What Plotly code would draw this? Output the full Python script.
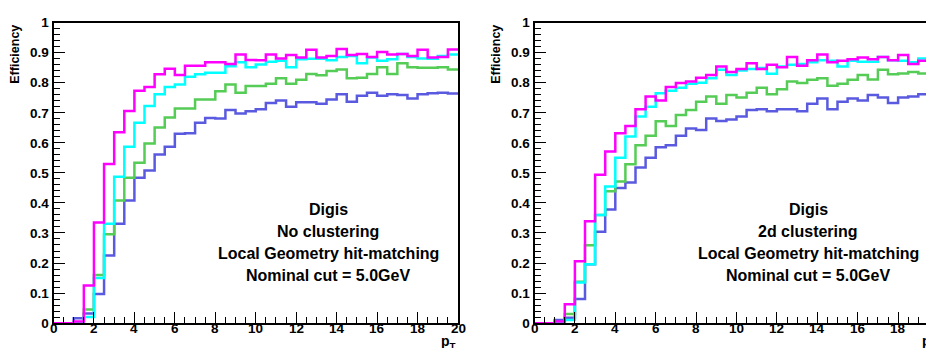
import numpy as np
import plotly.graph_objects as go

# pT binning: 40 bins of 0.5 GeV from 0 to 20
pt_edges = np.arange(41) * 0.5

# left panel: No clustering
left_magenta = [0, 0, 0.005, 0.125, 0.335, 0.53, 0.635, 0.706, 0.773, 0.786,
                0.828, 0.847, 0.826, 0.857, 0.857, 0.868, 0.868, 0.862, 0.894, 0.876,
                0.875, 0.894, 0.881, 0.892, 0.884, 0.91, 0.884, 0.889, 0.912, 0.892,
                0.896, 0.886, 0.902, 0.894, 0.896, 0.889, 0.91, 0.884, 0.886, 0.911]
left_cyan = [0, 0, 0.003, 0.02, 0.15, 0.331, 0.487, 0.587, 0.667, 0.723,
             0.762, 0.786, 0.794, 0.820, 0.828, 0.833, 0.833, 0.855, 0.868, 0.852,
             0.861, 0.870, 0.873, 0.852, 0.878, 0.880, 0.880, 0.875, 0.886, 0.889,
             0.865, 0.884, 0.873, 0.878, 0.896, 0.886, 0.881, 0.880, 0.889, 0.894]
left_green = [0, 0, 0.003, 0.045, 0.160, 0.296, 0.408, 0.484, 0.534, 0.598,
              0.651, 0.684, 0.714, 0.714, 0.744, 0.744, 0.772, 0.794, 0.767, 0.789,
              0.789, 0.797, 0.815, 0.797, 0.810, 0.829, 0.825, 0.839, 0.844, 0.815,
              0.817, 0.829, 0.852, 0.829, 0.865, 0.852, 0.850, 0.850, 0.852, 0.844]
left_blue = [0, 0, 0.016, 0.032, 0.097, 0.225, 0.331, 0.408, 0.484, 0.508,
             0.561, 0.587, 0.630, 0.632, 0.667, 0.683, 0.681, 0.709, 0.698, 0.705,
             0.712, 0.733, 0.741, 0.720, 0.735, 0.735, 0.730, 0.744, 0.762, 0.737,
             0.757, 0.767, 0.757, 0.762, 0.759, 0.748, 0.762, 0.765, 0.767, 0.764]

# right panel: 2d clustering
right_magenta = [0, 0, 0.005, 0.063, 0.206, 0.339, 0.494, 0.571, 0.632, 0.656,
                 0.712, 0.754, 0.741, 0.786, 0.799, 0.804, 0.817, 0.826, 0.854, 0.836,
                 0.846, 0.865, 0.846, 0.860, 0.852, 0.886, 0.857, 0.875, 0.894, 0.868,
                 0.873, 0.878, 0.884, 0.878, 0.886, 0.875, 0.892, 0.862, 0.873, 0.900]
right_cyan = [0, 0, 0.003, 0.01, 0.135, 0.196, 0.36, 0.455, 0.550, 0.621,
              0.688, 0.720, 0.765, 0.773, 0.783, 0.797, 0.80, 0.815, 0.843, 0.826,
              0.841, 0.846, 0.849, 0.830, 0.854, 0.860, 0.862, 0.868, 0.875, 0.873,
              0.854, 0.873, 0.870, 0.870, 0.886, 0.875, 0.873, 0.868, 0.881, 0.884]
right_green = [0, 0, 0.002, 0.03, 0.138, 0.259, 0.360, 0.439, 0.471, 0.529,
               0.592, 0.624, 0.672, 0.656, 0.693, 0.709, 0.737, 0.754, 0.730, 0.759,
               0.751, 0.767, 0.783, 0.762, 0.778, 0.804, 0.799, 0.810, 0.815, 0.790,
               0.797, 0.810, 0.826, 0.811, 0.843, 0.828, 0.831, 0.836, 0.831, 0.831]
right_blue = [0, 0, 0.01, 0.018, 0.08, 0.196, 0.304, 0.378, 0.45, 0.468,
              0.518, 0.550, 0.585, 0.592, 0.624, 0.648, 0.643, 0.681, 0.673, 0.678,
              0.688, 0.709, 0.712, 0.705, 0.712, 0.712, 0.705, 0.730, 0.748, 0.712,
              0.737, 0.748, 0.741, 0.759, 0.751, 0.733, 0.751, 0.754, 0.762, 0.757]

x_ticks = list(range(0, 21, 2))
panel_labels = [
    ["Digis", "No clustering", "Local Geometry hit-matching", "Nominal cut = 5.0GeV"],
    ["Digis", "2d clustering", "Local Geometry hit-matching", "Nominal cut = 5.0GeV"],
]

W, H = 934, 348
FONT = "Liberation Sans"
line_colors = ["#5a5ae0", "#55cc55", "#00ffff", "#ff00ff"]


def px_x(p):
    return p / W


def px_y(p):
    return 1 - p / H


fig = go.Figure()

panels = [
    (left_blue, left_green, left_cyan, left_magenta),
    (right_blue, right_green, right_cyan, right_magenta),
]

for i, series in enumerate(panels):
    suffix = "" if i == 0 else "2"
    for vals, col in zip(series, line_colors):
        fig.add_trace(go.Scatter(
            x=pt_edges, y=list(vals) + [vals[-1]],
            mode="lines", line=dict(shape="hv", color=col, width=2.5),
            xaxis="x" + suffix, yaxis="y" + suffix,
            showlegend=False, hoverinfo="skip",
        ))

tickfont = dict(family=FONT, size=13.5, color="black", weight="bold")
common_x = dict(
    range=[0, 20], tickvals=x_ticks, ticks="inside", ticklen=11, tickwidth=1,
    tickcolor="black", minor=dict(dtick=0.5, ticks="inside", ticklen=6, tickcolor="black"),
    showgrid=False, zeroline=False, showline=True, linecolor="black", linewidth=2,
    mirror=True, showticklabels=False,
)
common_y = dict(
    range=[0, 1], dtick=0.1, ticks="inside", ticklen=11, tickwidth=1,
    tickcolor="black", minor=dict(dtick=0.02, ticks="inside", ticklen=6, tickcolor="black"),
    showgrid=False, zeroline=False, showline=True, linecolor="black", linewidth=2,
    mirror=True, tickfont=tickfont,
)

y_dom = [px_y(322), px_y(8)]
fig.update_layout(
    width=W, height=H, margin=dict(l=0, r=0, t=0, b=0),
    plot_bgcolor="white", paper_bgcolor="white",
    xaxis=dict(domain=[px_x(45.5), px_x(450)], anchor="y", **common_x),
    yaxis=dict(domain=y_dom, anchor="x", **common_y),
    xaxis2=dict(domain=[px_x(526.5), px_x(930.5)], anchor="y2", **common_x),
    yaxis2=dict(domain=y_dom, anchor="x2", **common_y),
)

annotations = []
for i, labels in enumerate(panel_labels):
    cx = 320 if i == 0 else 800
    for j, txt in enumerate(labels):
        annotations.append(dict(
            x=px_x(cx), y=px_y(203 + j * 23), xref="paper", yref="paper",
            text=txt, showarrow=False, xanchor="center", yanchor="middle",
            font=dict(family=FONT, size=16, color="black", weight="bold"),
        ))
    x0 = 45.5 if i == 0 else 526.5
    xref = "x" if i == 0 else "x2"
    # x tick labels sit right under the frame, ROOT style
    for t in x_ticks:
        annotations.append(dict(
            x=t, y=px_y(328), xref=xref, yref="paper", text=str(t),
            showarrow=False, xanchor="center", yanchor="middle",
            font=tickfont,
        ))
    annotations.append(dict(
        x=px_x(x0 - 38), y=px_y(41), xref="paper", yref="paper",
        text="Efficiency", textangle=-90, showarrow=False,
        xanchor="center", yanchor="middle",
        font=dict(family=FONT, size=12.5, color="black", weight="bold"),
    ))
    annotations.append(dict(
        x=px_x(x0 + 404), y=px_y(342), xref="paper", yref="paper",
        text="p<sub>T</sub>", showarrow=False, xanchor="right", yanchor="middle",
        font=dict(family=FONT, size=14, color="black", weight="bold"),
    ))
fig.update_layout(annotations=annotations)

fig.write_html("out.html")
